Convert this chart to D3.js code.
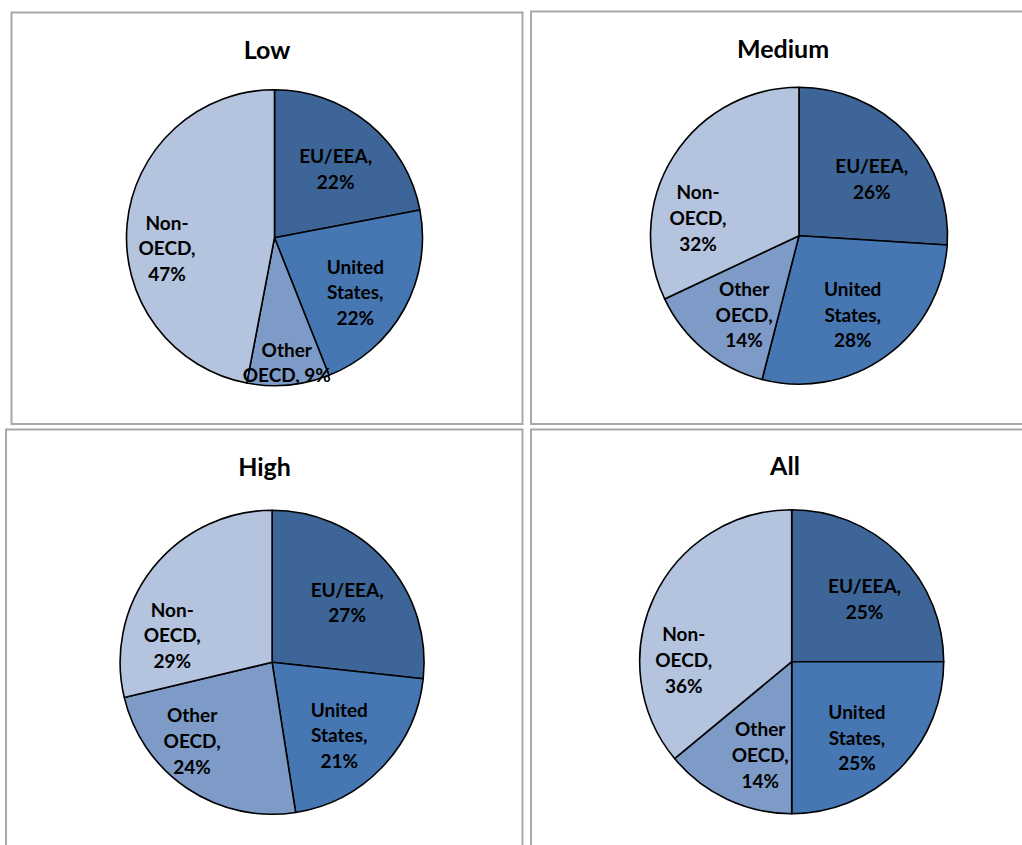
<!DOCTYPE html>
<html><head><meta charset="utf-8">
<script src="https://cdn.jsdelivr.net/npm/d3@7"></script>
<style>html,body{margin:0;padding:0;background:#fff;overflow:hidden}</style>
</head><body><svg id="c" width="1022" height="845"></svg>
<script>
// ---- data ----
const categories = ["EU/EEA", "United States", "Other OECD", "Non-OECD"];
const panelTitles = ["Low", "Medium", "High", "All"];
const lowValues = [22, 22, 9, 47];
const mediumValues = [26, 28, 14, 32];
const highValues = [27, 21, 24, 29];
const allValues = [25, 25, 14, 36];
const colors = ["#3d6597", "#4677b2", "#7e9bc8", "#b4c3de"];

// ---- layout (not data) ----
const panels = [
  {values: lowValues,    box: [11.5, 12.5, 522.5, 424], titleX: 267, titleY: 50,  cx: 274.5, cy: 237.7, r: 148,
   labels: [[2.2, .62], [5.4, .66], [-0.2, .85], [-11.2, .73]]},
  {values: mediumValues, box: [531, 11.5, 1040, 424],   titleX: 783, titleY: 49,  cx: 799, cy: 235.7, r: 148.5,
   labels: [[5.4, .62], [1.9, .645], [-4.9, .65], [-22.6, .69]]},
  {values: highValues,   box: [6, 429.5, 522.5, 860],  titleX: 264.5, titleY: 467, cx: 272.1, cy: 662.3, r: 152,
   labels: [[3.5, .63], [3.9, .655], [11.5, .74], [-23.4, .68]]},
  {values: allValues,    box: [531, 429.5, 1040, 860], titleX: 785, titleY: 466.7, cx: 791.7, cy: 661.7, r: 152,
   labels: [[4.5, .63], [4.4, .66], [-6.6, .65], [-24.5, .71]]}
];

const svg = d3.select("#c");
const FONT = "Lato, Carlito, Calibri, 'Open Sans', sans-serif";
const color = d3.scaleOrdinal().domain(categories).range(colors);
const pie = d3.pie().sort(null).value(d => d.v);
const lineH = 25.7;

function labelLines(cat, v) {
  const parts = cat.replace("-", "-\n").split(/[ \n]/).filter(s => s.length);
  parts[parts.length - 1] += ",";
  const pct = d3.format(".0f")(v) + "%";
  if (v < 10) parts[parts.length - 1] += " " + pct; else parts.push(pct);
  return parts;
}

panels.forEach((p, i) => {
  const [x0, y0, x1, y1] = p.box;
  svg.append("rect").attr("x", x0).attr("y", y0).attr("width", x1 - x0).attr("height", y1 - y0)
    .attr("fill", "#fff").attr("stroke", "#a8a8a8").attr("stroke-width", 2);

  svg.append("text").attr("x", p.titleX).attr("y", p.titleY).attr("dy", "0.35em")
    .attr("text-anchor", "middle").attr("font-family", FONT).attr("font-weight", "bold")
    .attr("font-size", 25).attr("fill", "#000").text(panelTitles[i]);

  const data = categories.map((c, k) => ({c, v: p.values[k]}));
  const arcs = pie(data);
  const arc = d3.arc().innerRadius(0).outerRadius(p.r);
  const g = svg.append("g").attr("transform", `translate(${p.cx},${p.cy})`);
  g.selectAll("path").data(arcs).join("path")
    .attr("d", arc).attr("fill", d => color(d.data.c))
    .attr("stroke", "#000").attr("stroke-width", 1.6).attr("stroke-linejoin", "round");

  arcs.forEach((a, k) => {
    const [dAng, frac] = p.labels[k];
    const ang = (a.startAngle + a.endAngle) / 2 + dAng * Math.PI / 180;
    const rr = frac * p.r;
    const lx = rr * Math.sin(ang), ly = -rr * Math.cos(ang);
    const lines = labelLines(a.data.c, a.data.v);
    const t = g.append("text").attr("text-anchor", "middle").attr("font-family", FONT)
      .attr("font-weight", "bold").attr("font-size", 19).attr("fill", "#000");
    lines.forEach((ln, j) => {
      t.append("tspan").attr("x", lx)
        .attr("y", ly + (j - (lines.length - 1) / 2) * lineH).attr("dy", "0.35em").text(ln);
    });
  });
});
</script>
</body></html>
